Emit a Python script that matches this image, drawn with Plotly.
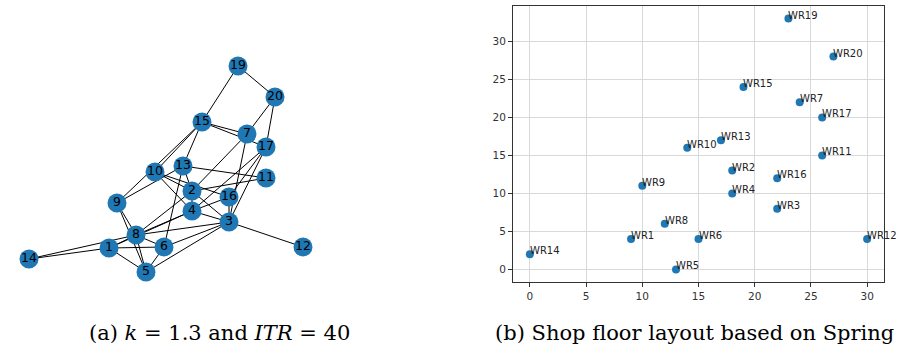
import plotly.graph_objects as go

# ---- left: spring network (node positions, layout units) ----
node_ids = [str(i) for i in range(1, 21) if i != 18]
node_x = [109, 192, 229, 192, 146, 164, 247, 136, 117, 155, 266, 303, 183, 29, 202, 229, 266, 238, 275]
node_y = [248, 191, 222, 211, 272, 247, 134, 235, 203, 172, 178, 247, 166, 259, 122, 197, 147, 66, 97]

edges = [
    (19, 20), (19, 15), (20, 7), (20, 17), (15, 7), (15, 17), (15, 13), (15, 10), (15, 9),
    (9, 13), (9, 8), (9, 5), (10, 2), (10, 4), (10, 16), (13, 11), (13, 2), (13, 6),
    (11, 2), (7, 2), (7, 3), (17, 3), (17, 16), (17, 4), (2, 3), (2, 4), (4, 3), (4, 16),
    (16, 3), (3, 12), (3, 8), (3, 6), (3, 5), (8, 4), (8, 2), (8, 6), (8, 5), (8, 1),
    (1, 6), (1, 5), (1, 4), (6, 5), (14, 1), (14, 8),
]

# ---- right: shop floor layout ----
wr_labels = ["WR1", "WR2", "WR3", "WR4", "WR5", "WR6", "WR7", "WR8", "WR9", "WR10",
             "WR11", "WR12", "WR13", "WR14", "WR15", "WR16", "WR17", "WR19", "WR20"]
wr_x = [9, 18, 22, 18, 13, 15, 24, 12, 10, 14, 26, 30, 17, 0, 19, 22, 26, 23, 27]
wr_y = [4, 13, 8, 10, 0, 4, 22, 6, 11, 16, 15, 4, 17, 2, 24, 12, 20, 33, 28]

xticks = [0, 5, 10, 15, 20, 25, 30]
yticks = [0, 5, 10, 15, 20, 25, 30]

captions = ["(a) <i>k</i> = 1.3 and <i>ITR</i> = 40", "(b) Shop floor layout based on Spring"]

BLUE = "#1f77b4"
W, H = 900, 349

pos = {nid: (x, y) for nid, x, y in zip(node_ids, node_x, node_y)}
ex, ey = [], []
for a, b in edges:
    xa, ya = pos[str(a)]
    xb, yb = pos[str(b)]
    ex += [xa, xb, None]
    ey += [ya, yb, None]

fig = go.Figure()
fig.add_trace(go.Scatter(x=ex, y=ey, mode="lines", line=dict(color="black", width=1),
                         hoverinfo="skip", xaxis="x", yaxis="y", showlegend=False))
fig.add_trace(go.Scatter(x=node_x, y=node_y, mode="markers+text", text=node_ids,
                         textposition="middle center",
                         textfont=dict(family="DejaVu Sans", size=12.5, color="black"),
                         marker=dict(color=BLUE, size=19, line=dict(width=0)),
                         xaxis="x", yaxis="y", showlegend=False))

fig.add_trace(go.Scatter(x=wr_x, y=wr_y, mode="markers",
                         marker=dict(color=BLUE, size=8, line=dict(width=0)),
                         xaxis="x2", yaxis="y2", showlegend=False, cliponaxis=False))

annotations = []
for lab, x, y in zip(wr_labels, wr_x, wr_y):
    annotations.append(dict(text=lab, x=x, y=y, xref="x2", yref="y2", showarrow=False,
                            xanchor="left", yanchor="bottom", borderpad=0,
                            xshift=-1, yshift=-3,
                            font=dict(family="DejaVu Sans", size=10, color="#222")))

annotations += [
    dict(text=captions[0], x=219 / W, y=(H - 333) / H, xref="paper", yref="paper",
         xanchor="center", yanchor="middle", showarrow=False,
         font=dict(family="DejaVu Serif", size=21, color="black")),
    dict(text=captions[1], x=694 / W, y=(H - 333) / H, xref="paper", yref="paper",
         xanchor="center", yanchor="middle", showarrow=False,
         font=dict(family="DejaVu Serif", size=21, color="black")),
]

axis_common = dict(ticks="outside", ticklen=4, tickcolor="#333",
                   showgrid=True, gridcolor="#d9d9d9", gridwidth=1, zeroline=False,
                   showline=True, linecolor="#333", mirror=True, fixedrange=True,
                   tickfont=dict(family="DejaVu Sans", size=10.5, color="#333"))

fig.update_layout(
    width=W, height=H, margin=dict(l=0, r=0, t=0, b=0),
    paper_bgcolor="white", plot_bgcolor="white", hovermode=False,
    xaxis=dict(domain=[0, 330 / W], range=[0, 330], visible=False, fixedrange=True),
    yaxis=dict(domain=[49 / H, 1], range=[300, 0], visible=False, fixedrange=True),
    xaxis2=dict(domain=[513 / W, 884 / W], range=[-1.5, 31.5], anchor="y2",
                tickvals=xticks, **axis_common),
    yaxis2=dict(domain=[(H - 282) / H, (H - 6) / H], range=[-1.65, 34.65], anchor="x2",
                tickvals=yticks, **axis_common),
    annotations=annotations,
)

fig.write_html("out.html", config={"displayModeBar": False},
               post_script="document.body.style.margin='0';document.body.style.overflow='hidden';")
